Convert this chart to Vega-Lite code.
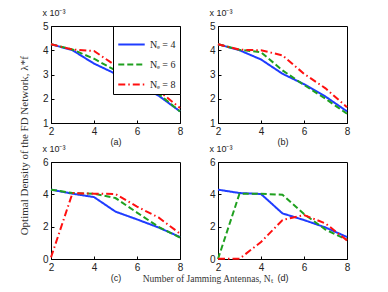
{
  "$schema": "https://vega.github.io/schema/vega-lite/v6.json",
  "background": "white",
  "padding": {"left": 18, "top": 8, "right": 5, "bottom": 5},
  "title": {"text": "Optimal Density of the FD Network, λ*f", "orient": "left", "anchor": "middle", "font": "Liberation Serif", "fontSize": 11, "fontWeight": "normal", "color": "#333", "offset": 12},
  "datasets": {
    "d": [
      {"p":"a","Ne":"4","Nt":2,"v":4.25},{"p":"a","Ne":"4","Nt":3,"v":4.0},{"p":"a","Ne":"4","Nt":4,"v":3.45},{"p":"a","Ne":"4","Nt":5,"v":3.03},{"p":"a","Ne":"4","Nt":6,"v":2.6},{"p":"a","Ne":"4","Nt":7,"v":2.13},{"p":"a","Ne":"4","Nt":8,"v":1.48},
      {"p":"a","Ne":"6","Nt":2,"v":4.25},{"p":"a","Ne":"6","Nt":3,"v":4.03},{"p":"a","Ne":"6","Nt":4,"v":3.65},{"p":"a","Ne":"6","Nt":5,"v":3.17},{"p":"a","Ne":"6","Nt":6,"v":2.68},{"p":"a","Ne":"6","Nt":7,"v":2.2},{"p":"a","Ne":"6","Nt":8,"v":1.48},
      {"p":"a","Ne":"8","Nt":2,"v":4.25},{"p":"a","Ne":"8","Nt":3,"v":4.03},{"p":"a","Ne":"8","Nt":4,"v":3.97},{"p":"a","Ne":"8","Nt":5,"v":3.37},{"p":"a","Ne":"8","Nt":6,"v":2.85},{"p":"a","Ne":"8","Nt":7,"v":2.34},{"p":"a","Ne":"8","Nt":8,"v":1.62},
      {"p":"b","Ne":"4","Nt":2,"v":4.25},{"p":"b","Ne":"4","Nt":3,"v":4.0},{"p":"b","Ne":"4","Nt":4,"v":3.62},{"p":"b","Ne":"4","Nt":5,"v":3.03},{"p":"b","Ne":"4","Nt":6,"v":2.6},{"p":"b","Ne":"4","Nt":7,"v":2.09},{"p":"b","Ne":"4","Nt":8,"v":1.48},
      {"p":"b","Ne":"6","Nt":2,"v":4.25},{"p":"b","Ne":"6","Nt":3,"v":4.02},{"p":"b","Ne":"6","Nt":4,"v":3.92},{"p":"b","Ne":"6","Nt":5,"v":3.17},{"p":"b","Ne":"6","Nt":6,"v":2.57},{"p":"b","Ne":"6","Nt":7,"v":2.0},{"p":"b","Ne":"6","Nt":8,"v":1.38},
      {"p":"b","Ne":"8","Nt":2,"v":4.25},{"p":"b","Ne":"8","Nt":3,"v":4.02},{"p":"b","Ne":"8","Nt":4,"v":4.0},{"p":"b","Ne":"8","Nt":5,"v":3.79},{"p":"b","Ne":"8","Nt":6,"v":3.03},{"p":"b","Ne":"8","Nt":7,"v":2.43},{"p":"b","Ne":"8","Nt":8,"v":1.65},
      {"p":"c","Ne":"4","Nt":2,"v":4.29},{"p":"c","Ne":"4","Nt":3,"v":4.04},{"p":"c","Ne":"4","Nt":4,"v":3.83},{"p":"c","Ne":"4","Nt":5,"v":2.93},{"p":"c","Ne":"4","Nt":6,"v":2.45},{"p":"c","Ne":"4","Nt":7,"v":1.95},{"p":"c","Ne":"4","Nt":8,"v":1.36},
      {"p":"c","Ne":"6","Nt":2,"v":4.29},{"p":"c","Ne":"6","Nt":3,"v":4.08},{"p":"c","Ne":"6","Nt":4,"v":4.04},{"p":"c","Ne":"6","Nt":5,"v":3.77},{"p":"c","Ne":"6","Nt":6,"v":2.87},{"p":"c","Ne":"6","Nt":7,"v":1.99},{"p":"c","Ne":"6","Nt":8,"v":1.32},
      {"p":"c","Ne":"8","Nt":2,"v":0.1},{"p":"c","Ne":"8","Nt":3,"v":4.08},{"p":"c","Ne":"8","Nt":4,"v":4.04},{"p":"c","Ne":"8","Nt":5,"v":4.02},{"p":"c","Ne":"8","Nt":6,"v":3.24},{"p":"c","Ne":"8","Nt":7,"v":2.57},{"p":"c","Ne":"8","Nt":8,"v":1.57},
      {"p":"d","Ne":"4","Nt":2,"v":4.29},{"p":"d","Ne":"4","Nt":3,"v":4.08},{"p":"d","Ne":"4","Nt":4,"v":4.02},{"p":"d","Ne":"4","Nt":5,"v":2.82},{"p":"d","Ne":"4","Nt":6,"v":2.41},{"p":"d","Ne":"4","Nt":7,"v":1.95},{"p":"d","Ne":"4","Nt":8,"v":1.36},
      {"p":"d","Ne":"6","Nt":2,"v":0.0},{"p":"d","Ne":"6","Nt":3,"v":4.04},{"p":"d","Ne":"6","Nt":4,"v":4.04},{"p":"d","Ne":"6","Nt":5,"v":3.97},{"p":"d","Ne":"6","Nt":6,"v":2.78},{"p":"d","Ne":"6","Nt":7,"v":1.82},{"p":"d","Ne":"6","Nt":8,"v":1.19},
      {"p":"d","Ne":"8","Nt":2,"v":0.02},{"p":"d","Ne":"8","Nt":3,"v":0.02},{"p":"d","Ne":"8","Nt":4,"v":1.05},{"p":"d","Ne":"8","Nt":5,"v":2.41},{"p":"d","Ne":"8","Nt":6,"v":2.72},{"p":"d","Ne":"8","Nt":7,"v":2.2},{"p":"d","Ne":"8","Nt":8,"v":1.15}
    ]
  },
  "vconcat": [
    {
      "title": {"text": "Number of Jamming Antennas, Nₜ", "orient": "bottom", "anchor": "middle", "font": "Liberation Serif", "fontSize": 9.5, "fontWeight": "normal", "color": "#333", "offset": -9, "dx": 11},
      "columns": 2,
      "spacing": {"column": 23, "row": -3},
      "resolve": {"legend": {"color": "independent", "strokeDash": "independent"}},
      "concat": [
        {
          "title": {"text": "x 10⁻³"},
          "data": {"name": "d"},
          "transform": [{"filter": "datum.p === 'a'"}],
          "width": 129, "height": 97,
          "mark": {"type": "line", "strokeWidth": 2},
          "encoding": {
            "x": {"field": "Nt", "type": "quantitative", "scale": {"domain": [2, 8]}, "axis": {"values": [2, 4, 6, 8], "title": "(a)"}},
            "y": {"field": "v", "type": "quantitative", "scale": {"domain": [1, 5]}, "axis": {"values": [1, 2, 3, 4, 5], "title": null}},
            "color": {"field": "Ne", "type": "nominal", "scale": {"domain": ["4", "6", "8"], "range": ["#1f3cff", "#1fa01f", "#ff1010"]},
              "legend": {"orient": "top-right", "offset": 0, "title": null, "strokeColor": "black", "fillColor": "white", "padding": 4, "symbolType": "stroke", "symbolSize": 700, "symbolStrokeWidth": 2, "labelFont": "Liberation Serif", "labelFontSize": 10, "labelColor": "#222", "labelExpr": "'Nₑ = ' + datum.label", "rowPadding": -9, "labelOffset": 4}},
            "strokeDash": {"field": "Ne", "type": "nominal", "scale": {"domain": ["4", "6", "8"], "range": [[1, 0], [6, 3], [7, 3, 1.5, 3]]},
              "legend": {"orient": "top-right", "offset": 0, "title": null, "strokeColor": "black", "fillColor": "white", "padding": 4, "symbolType": "stroke", "symbolSize": 700, "symbolStrokeWidth": 2, "labelFont": "Liberation Serif", "labelFontSize": 10, "labelColor": "#222", "labelExpr": "'Nₑ = ' + datum.label", "rowPadding": -9, "labelOffset": 4}}
          }
        },
        {
          "title": {"text": "x 10⁻³"},
          "data": {"name": "d"},
          "transform": [{"filter": "datum.p === 'b'"}],
          "width": 129, "height": 97,
          "mark": {"type": "line", "strokeWidth": 2},
          "encoding": {
            "x": {"field": "Nt", "type": "quantitative", "scale": {"domain": [2, 8]}, "axis": {"values": [2, 4, 6, 8], "title": "(b)"}},
            "y": {"field": "v", "type": "quantitative", "scale": {"domain": [1, 5]}, "axis": {"values": [1, 2, 3, 4, 5], "title": null}},
            "color": {"field": "Ne", "type": "nominal", "scale": {"domain": ["4", "6", "8"], "range": ["#1f3cff", "#1fa01f", "#ff1010"]}, "legend": null},
            "strokeDash": {"field": "Ne", "type": "nominal", "scale": {"domain": ["4", "6", "8"], "range": [[1, 0], [6, 3], [7, 3, 1.5, 3]]}, "legend": null}
          }
        },
        {
          "title": {"text": "x 10⁻³"},
          "data": {"name": "d"},
          "transform": [{"filter": "datum.p === 'c'"}],
          "width": 129, "height": 97,
          "mark": {"type": "line", "strokeWidth": 2},
          "encoding": {
            "x": {"field": "Nt", "type": "quantitative", "scale": {"domain": [2, 8]}, "axis": {"values": [2, 4, 6, 8], "title": "(c)"}},
            "y": {"field": "v", "type": "quantitative", "scale": {"domain": [0, 6]}, "axis": {"values": [0, 2, 4, 6], "title": null}},
            "color": {"field": "Ne", "type": "nominal", "scale": {"domain": ["4", "6", "8"], "range": ["#1f3cff", "#1fa01f", "#ff1010"]}, "legend": null},
            "strokeDash": {"field": "Ne", "type": "nominal", "scale": {"domain": ["4", "6", "8"], "range": [[1, 0], [6, 3], [7, 3, 1.5, 3]]}, "legend": null}
          }
        },
        {
          "title": {"text": "x 10⁻³"},
          "data": {"name": "d"},
          "transform": [{"filter": "datum.p === 'd'"}],
          "width": 129, "height": 97,
          "mark": {"type": "line", "strokeWidth": 2},
          "encoding": {
            "x": {"field": "Nt", "type": "quantitative", "scale": {"domain": [2, 8]}, "axis": {"values": [2, 4, 6, 8], "title": "(d)"}},
            "y": {"field": "v", "type": "quantitative", "scale": {"domain": [0, 6]}, "axis": {"values": [0, 2, 4, 6], "title": null}},
            "color": {"field": "Ne", "type": "nominal", "scale": {"domain": ["4", "6", "8"], "range": ["#1f3cff", "#1fa01f", "#ff1010"]}, "legend": null},
            "strokeDash": {"field": "Ne", "type": "nominal", "scale": {"domain": ["4", "6", "8"], "range": [[1, 0], [6, 3], [7, 3, 1.5, 3]]}, "legend": null}
          }
        }
      ]
    }
  ],
  "config": {
    "view": {"stroke": "black", "strokeWidth": 1},
    "title": {"anchor": "start", "font": "Liberation Sans", "fontSize": 9, "fontWeight": "normal", "color": "#222", "offset": 3},
    "axis": {"grid": false, "domainColor": "black", "tickColor": "black", "tickSize": -3, "labelPadding": 6, "labelFont": "Liberation Sans", "labelFontSize": 10, "labelColor": "#222", "titleFont": "Liberation Sans", "titleFontSize": 9, "titleFontWeight": "normal", "titleColor": "#222", "titlePadding": 1, "labelFlush": false}
  }
}
